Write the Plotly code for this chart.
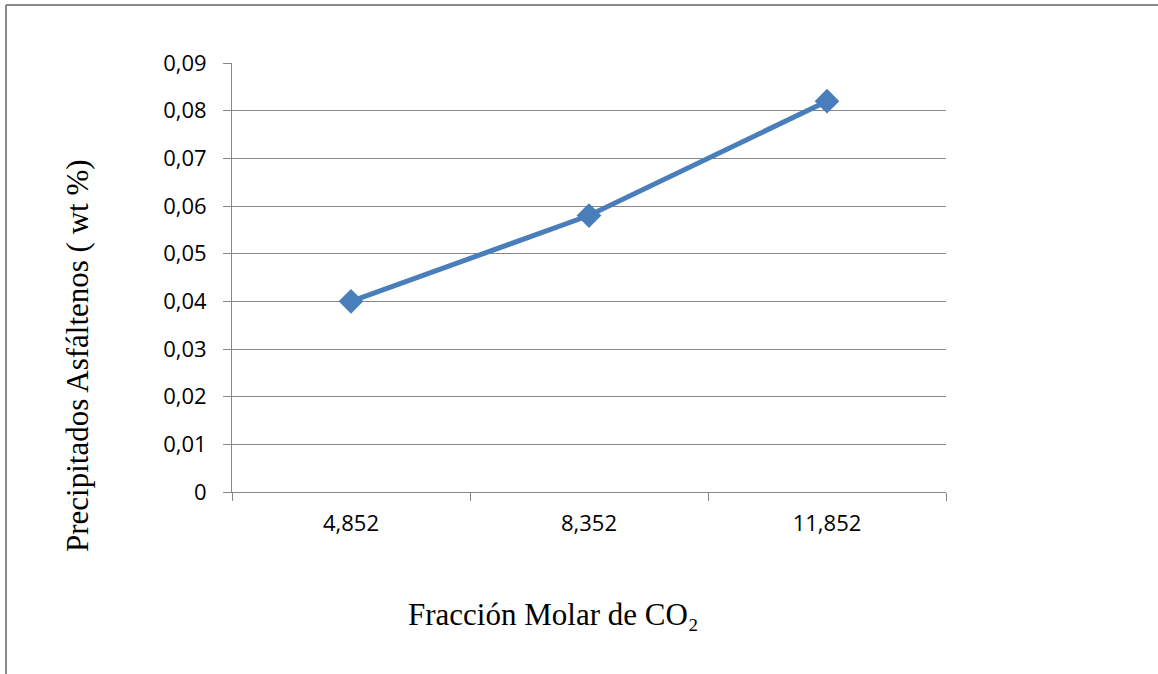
import plotly.graph_objects as go

# Asphaltene precipitation vs CO2 molar fraction
categories = ["4,852", "8,352", "11,852"]
precipitados = [0.04, 0.058, 0.082]
y_ticks = [0, 0.01, 0.02, 0.03, 0.04, 0.05, 0.06, 0.07, 0.08, 0.09]
y_labels = ["0", "0,01", "0,02", "0,03", "0,04", "0,05", "0,06", "0,07", "0,08", "0,09"]

x_title = "Fracción Molar de CO₂"
y_title = "Precipitados Asfáltenos ( wt %)"

GRID = "#878787"
LINE = "#4a7ebb"

fig = go.Figure()
fig.add_trace(go.Scatter(
    x=categories, y=precipitados,
    mode="lines+markers",
    line=dict(color=LINE, width=5),
    marker=dict(symbol="diamond", size=19, color=LINE),
    showlegend=False,
))

W, H = 1158, 674
L, R, T, B = 232, 212, 63, 182
pw, ph = W - L - R, H - T - B

def px_x(v):
    return (v - L) / pw

def px_y(v):
    return (H - B - v) / ph

fig.update_layout(
    width=W, height=H,
    margin=dict(l=L, r=R, t=T, b=B),
    paper_bgcolor="white", plot_bgcolor="white",
    font=dict(family="Open Sans", size=22, color="black"),
    xaxis=dict(
        type="category", range=[-0.5, 2.5],
        tickson="boundaries", ticks="outside", ticklen=8, tickwidth=1, tickcolor=GRID,
        showline=True, linecolor=GRID, linewidth=1,
        showgrid=False, ticklabelstandoff=12,
        tickfont=dict(family="Open Sans", size=22),
    ),
    yaxis=dict(
        range=[0, 0.09], tickvals=y_ticks, ticktext=y_labels,
        ticks="outside", ticklen=8, tickwidth=1, tickcolor=GRID,
        showline=True, linecolor=GRID, linewidth=1,
        showgrid=True, gridcolor=GRID, gridwidth=1, zeroline=False,
        ticklabelstandoff=12,
        tickfont=dict(family="Open Sans", size=22),
    ),
    shapes=[
        # outer frame: top and left edges
        dict(type="line", xref="paper", yref="paper",
             x0=px_x(6), x1=px_x(1160), y0=px_y(5), y1=px_y(5),
             line=dict(color="#8a8a8a", width=2)),
        dict(type="line", xref="paper", yref="paper",
             x0=px_x(6), x1=px_x(6), y0=px_y(5), y1=px_y(680),
             line=dict(color="#8a8a8a", width=2)),
    ],
    annotations=[
        dict(text=y_title, xref="paper", yref="paper",
             x=px_x(77), y=px_y(356), showarrow=False, textangle=-90,
             font=dict(family="Liberation Serif", size=31, color="black"),
             xanchor="center", yanchor="middle"),
        dict(text=x_title, xref="paper", yref="paper",
             x=px_x(553), y=px_y(614), showarrow=False,
             font=dict(family="Liberation Serif", size=31, color="black"),
             xanchor="center", yanchor="middle"),
    ],
)

fig.write_html("out.html")
